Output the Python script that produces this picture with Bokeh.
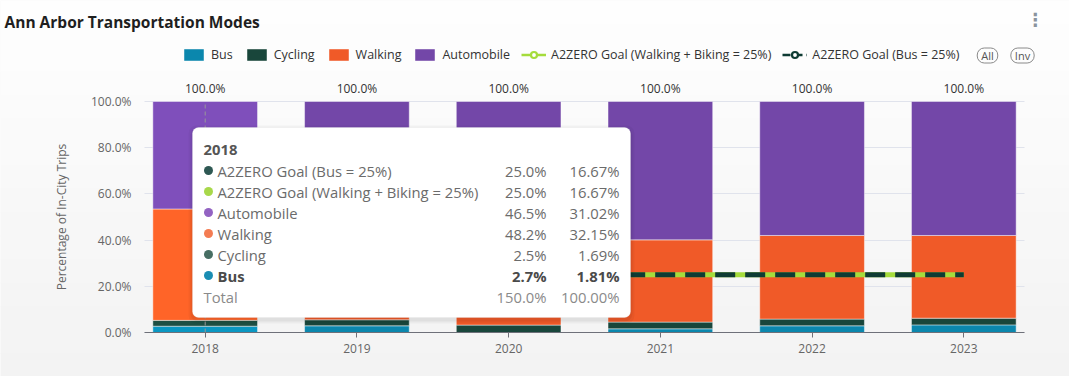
from bokeh.plotting import figure
from bokeh.models import (ColumnDataSource, Legend, LegendItem, Label, LabelSet,
                          BoxAnnotation, FixedTicker, PrintfTickFormatter, LinearAxis,
                          Grid, Range1d)
from bokeh.core.properties import value
from bokeh.embed import file_html
from bokeh.resources import INLINE

# ---------------- data ----------------
years = [2018, 2019, 2020, 2021, 2022, 2023]
bus = [2.72, 2.9, 0.0, 1.6, 2.9, 3.3]
cycling = [2.53, 2.6, 3.2, 2.9, 2.9, 2.9]
walking = [48.22, 47.0, 45.0, 35.6, 36.2, 35.8]
automobile = [46.53, 47.5, 51.8, 59.9, 58.0, 58.0]
goal_walk_bike = [25.0, 25.0, 25.0, 25.0, 25.0, 25.0]
goal_bus = [25.0, 25.0, 25.0, 25.0, 25.0, 25.0]
series_names = ["Bus", "Cycling", "Walking", "Automobile"]
goal_wb_name = "A2ZERO Goal (Walking + Biking = 25%)"
goal_bus_name = "A2ZERO Goal (Bus = 25%)"
title_text = "Ann Arbor Transportation Modes"
y_label = "Percentage of In-City Trips"
y_ticks = [0, 20, 40, 60, 80, 100]
hover_year = 2018

# ---------------- style / layout ----------------
W, H = 1069, 376
PLOT_L, PLOT_R, PLOT_T, PLOT_B = 144, 1024, 101, 332   # plotting area in page pixels
X_START, X_END = 2017.6, 2023.4
Y_START, Y_END = 0, 100
SX = (PLOT_R - PLOT_L) / (X_END - X_START)
SY = (PLOT_B - PLOT_T) / (Y_END - Y_START)
BAR_W = 0.69
FONT = "Open Sans"

BUS_C, BUS_H = "#0b87ad", "#0a97c2"
CYC_C, CYC_H = "#19463b", "#1d4f43"
WALK_C, WALK_H = "#f05a28", "#ff6428"
AUTO_C, AUTO_H = "#7347a8", "#7f4fbb"
GOAL_WB_C = "#a5dc3c"
GOAL_BUS_C = "#0e3b33"


def px_x(px):
    return X_START + (px - PLOT_L) / SX


def px_y(py):
    return Y_START + (PLOT_B - py) / SY


def pick(normal, hov):
    return [hov if y == hover_year else normal for y in years]


totals = [b + c + w + a for b, c, w, a in zip(bus, cycling, walking, automobile)]
src = ColumnDataSource(dict(
    year=years, Bus=bus, Cycling=cycling, Walking=walking, Automobile=automobile,
    goal_wb=goal_walk_bike, goal_bus=goal_bus,
    total=totals, total_txt=["%.1f%%" % t for t in totals],
    bus_c=pick(BUS_C, BUS_H), cyc_c=pick(CYC_C, CYC_H),
    walk_c=pick(WALK_C, WALK_H), auto_c=pick(AUTO_C, AUTO_H),
))

# the frame covers the whole page; axes are pinned at the plotting area's edges
p = figure(frame_width=W, frame_height=H, title=None,
           x_range=Range1d(px_x(0), px_x(W)), y_range=Range1d(px_y(H), px_y(0)),
           x_axis_location=None, y_axis_location=None,
           output_backend="svg", toolbar_location=None,
           min_border_left=0, min_border_right=0, min_border_top=0, min_border_bottom=0,
           background_fill_color="#f7f7f7", border_fill_color="#f7f7f7",
           outline_line_color=None)
for r in list(p.center):
    if isinstance(r, Grid):
        r.visible = False

# soft vertical background gradient
NB = 16
for i in range(NB):
    t = i / (NB - 1)
    g = int(round(254 - t * (254 - 243)))
    p.add_layout(BoxAnnotation(top=px_y(i * H / NB), bottom=px_y((i + 1) * H / NB + 1),
                               fill_color="#%02x%02x%02x" % (g, g, g), fill_alpha=1.0,
                               line_color=None, level="image"))

# axes
xax = LinearAxis(fixed_location=Y_START, bounds=(X_START, X_END),
                 ticker=FixedTicker(ticks=years))
xax.axis_line_color = "#6e7079"
xax.major_tick_line_color = "#6e7079"
xax.major_tick_out = 5
xax.major_tick_in = 0
xax.minor_tick_line_color = None
xax.major_label_text_color = "#666666"
xax.major_label_text_font = FONT
xax.major_label_text_font_size = "12px"
xax.major_label_standoff = 6
p.add_layout(xax, "below")

yax = LinearAxis(fixed_location=X_START, bounds=(Y_START, Y_END),
                 ticker=FixedTicker(ticks=y_ticks),
                 formatter=PrintfTickFormatter(format="%.1f%%"))
yax.axis_line_color = None
yax.major_tick_line_color = None
yax.minor_tick_line_color = None
yax.major_label_text_color = "#666666"
yax.major_label_text_font = FONT
yax.major_label_text_font_size = "12px"
yax.major_label_standoff = 7
yax.axis_label = y_label
yax.axis_label_text_font = FONT
yax.axis_label_text_font_size = "12px"
yax.axis_label_text_font_style = "normal"
yax.axis_label_text_color = "#666666"
yax.axis_label_standoff = 18
p.add_layout(yax, "left")

grid = Grid(dimension=1, ticker=yax.ticker, grid_line_color="#e0e3ec", bounds=(Y_START, Y_END))
if "cross_bounds" in grid.properties():
    grid.cross_bounds = (X_START, X_END)
    p.add_layout(grid)
else:
    p.segment(x0=X_START, x1=X_END, y0=y_ticks, y1=y_ticks, line_color="#e0e3ec",
              line_width=1, level="underlay")

# stacked bars
bars = p.vbar_stack(series_names, x="year", width=BAR_W, source=src,
                    fill_color=["bus_c", "cyc_c", "walk_c", "auto_c"],
                    line_color="#ffffff", line_alpha=0.45, line_width=1)

# goal lines
p.line("year", "goal_wb", source=src, line_color=GOAL_WB_C, line_width=5)
p.line("year", "goal_bus", source=src, line_color=GOAL_BUS_C, line_width=5,
       line_dash="20 10")

# hover crosshair
p.segment(x0=hover_year, x1=hover_year, y0=Y_START, y1=Y_END, line_color="#999999",
          line_dash="4 3", line_width=1)

# totals above each bar
p.add_layout(LabelSet(x="year", y="total", text="total_txt", source=src,
                      text_align="center", text_baseline="middle", y_offset=13,
                      text_font=value(FONT), text_font_size="12px", text_color="#333333"))

# legend-only renderers for the goal series (hidden in the plot, drawn in the legend)
seg_wb = p.segment(x0="year", y0="goal_wb", x1="year", y1="goal_wb", source=src,
                   line_color=GOAL_WB_C, line_width=2.5, visible=False)
mk_wb = p.scatter("year", "goal_wb", source=src, marker="circle", size=8,
                  fill_color="#ffffff", line_color=GOAL_WB_C, line_width=2.2,
                  visible=False)
seg_gb = p.segment(x0="year", y0="goal_bus", x1="year", y1="goal_bus", source=src,
                   line_color=GOAL_BUS_C, line_width=2.5, line_dash="8 4", visible=False)
mk_gb = p.scatter("year", "goal_bus", source=src, marker="circle", size=8,
                  fill_color="#ffffff", line_color=GOAL_BUS_C, line_width=2.2,
                  visible=False)

items = [LegendItem(label=n, renderers=[r], index=1) for n, r in zip(series_names, bars)]
items.append(LegendItem(label=goal_wb_name, renderers=[seg_wb, mk_wb]))
items.append(LegendItem(label=goal_bus_name, renderers=[seg_gb, mk_gb]))
LEG_L, LEG_BOTTOM = 181, 63
legend = Legend(items=items, orientation="horizontal",
                location=(LEG_L, H - LEG_BOTTOM),
                glyph_width=25, glyph_height=15, label_standoff=5, spacing=11,
                padding=0, margin=0, label_height=16,
                label_text_font=FONT, label_text_font_size="12.5px",
                label_text_color="#333333",
                background_fill_alpha=0, border_line_alpha=0)
p.add_layout(legend)

# title, menu, buttons
p.add_layout(Label(x=px_x(4), y=px_y(21), text=title_text, text_font=FONT,
                   text_font_style="bold", text_font_size="15.5px", text_color="#1f1f1f",
                   text_align="left", text_baseline="middle"))
p.add_layout(Label(x=px_x(1035), y=px_y(19), text="\u22ee", text_font="DejaVu Sans",
                   text_font_style="bold", text_font_size="18px", text_color="#8a949e",
                   text_align="center", text_baseline="middle"))
for txt, cx in (("All", 987), ("Inv", 1022)):
    p.add_layout(Label(x=px_x(cx), y=px_y(55), text=txt, text_font=FONT,
                       text_font_size="11px", text_color="#555555",
                       text_align="center", text_baseline="middle",
                       border_line_color="#8a8a8a", border_line_width=1,
                       border_radius=7, padding=dict(left=4, right=4, top=0, bottom=0)))

# ---------------- tooltip for the hovered year ----------------
hi = years.index(hover_year)
tt_names = [goal_bus_name, goal_wb_name, "Automobile", "Walking", "Cycling", "Bus"]
tt_vals = [goal_bus[hi], goal_walk_bike[hi], automobile[hi], walking[hi], cycling[hi], bus[hi]]
tt_total = sum(tt_vals)
tt_dot = ["#2e5853", "#a8d84a", "#9363c2", "#f47c52", "#476e63", "#1a8db3"]
TT_L, TT_T, TT_R, TT_B = 192, 127, 630, 317
ROW0, STEP = 170, 21
n = len(tt_names)
tt = ColumnDataSource(dict(
    name=tt_names,
    val=["%.1f%%" % v for v in tt_vals],
    pct=["%.2f%%" % (v / tt_total * 100) for v in tt_vals],
    y=[px_y(ROW0 + i * STEP) for i in range(n)],
    dot=tt_dot,
    style=["bold" if nm == "Bus" else "normal" for nm in tt_names],
    tcol=["#4a4a4a" if nm == "Bus" else "#6b6b6b" for nm in tt_names],
))

for d, a in ((4, 0.035), (2, 0.05)):
    p.add_layout(BoxAnnotation(left=px_x(TT_L - d), right=px_x(TT_R + d),
                               top=px_y(TT_T - d + 2), bottom=px_y(TT_B + d + 2),
                               fill_color="#000000", fill_alpha=a, line_color=None,
                               border_radius=8))
p.add_layout(BoxAnnotation(left=px_x(TT_L), right=px_x(TT_R), top=px_y(TT_T),
                           bottom=px_y(TT_B), fill_color="#ffffff", fill_alpha=1.0,
                           line_color="#e4e4e4", line_width=1, border_radius=6))

TT_FS = "14.8px"
p.add_layout(Label(x=px_x(203), y=px_y(149), text=str(hover_year), text_font=FONT,
                   text_font_style="bold", text_font_size=TT_FS, text_color="#555555",
                   text_align="left", text_baseline="middle"))
p.add_layout(LabelSet(x=px_x(217), y="y", text="name", source=tt, text_align="left",
                      text_baseline="middle", text_font=value(FONT), text_font_size=TT_FS,
                      text_color="tcol", text_font_style="style"))
p.add_layout(LabelSet(x=px_x(546), y="y", text="val", source=tt, text_align="right",
                      text_baseline="middle", text_font=value(FONT), text_font_size=TT_FS,
                      text_color="tcol", text_font_style="style"))
p.add_layout(LabelSet(x=px_x(619), y="y", text="pct", source=tt, text_align="right",
                      text_baseline="middle", text_font=value(FONT), text_font_size=TT_FS,
                      text_color="tcol", text_font_style="style"))
ty = px_y(ROW0 + n * STEP)
p.add_layout(Label(x=px_x(203), y=ty, text="Total", text_font=FONT, text_font_size=TT_FS,
                   text_color="#8a8a8a", text_align="left", text_baseline="middle"))
p.add_layout(Label(x=px_x(546), y=ty, text="%.1f%%" % tt_total, text_font=FONT,
                   text_font_size=TT_FS, text_color="#8a8a8a", text_align="right",
                   text_baseline="middle"))
p.add_layout(Label(x=px_x(619), y=ty, text="%.2f%%" % 100.0, text_font=FONT,
                   text_font_size=TT_FS, text_color="#8a8a8a", text_align="right",
                   text_baseline="middle"))
p.scatter(x=px_x(208), y="y", source=tt, marker="circle", size=9, fill_color="dot",
          line_color=None, level="overlay")

open("out.html", "w").write(file_html(p, INLINE))
